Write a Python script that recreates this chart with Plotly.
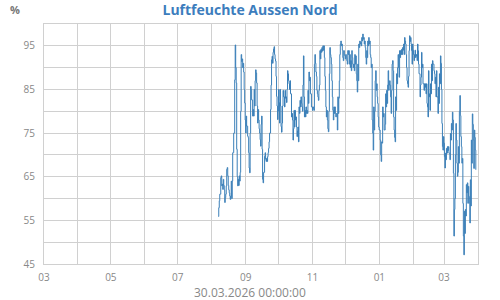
import pandas as pd
import plotly.graph_objects as go

# Humidity readings (%), two readings per ~22h step
hum_aug_sep = [55.9, 57.9, 59.5, 61, 61, 64.8, 65.2, 62.9, 63.3, 62.1, 64.4, 63, 62, 59.1, 60.2, 61,
               62.9, 66.7, 67.1, 65.2, 63, 62, 61.3, 60.6, 59.8, 60.5, 64, 60, 64, 70.5, 70.5, 75,
               75, 87.2, 95.2, 90, 86.5, 71.3, 65, 62.9, 64.4, 63, 65.2, 64, 66, 80, 93, 91.4,
               92, 90, 91, 89, 85, 81.9, 78, 75, 78.9, 76.6, 76.6, 74.3, 74, 70.5, 67, 65.9,
               75, 85.7, 85, 82.6, 82.6, 78.9, 80.4, 78.9, 85, 81.2, 87, 89.5, 88.8, 86.5, 81.2, 77.3,
               80.4, 78, 76, 75, 73.5, 72, 77, 78.9, 71.3, 64.4, 63.6, 66, 66, 69.7, 70.5, 69,
               68.5, 69.2, 68.5, 69.6, 70.5, 71.5, 73, 75, 75, 80.4, 86, 91.8, 92.6, 91, 93.5, 94.3,
               94.8, 93, 92, 91.5, 88, 83.4, 81.2, 78.1, 80, 85, 82, 77.3, 85, 81.2, 76.5, 75.2,
               77.3, 81.2]
hum_oct_nov = [84.8, 83.3, 83.3, 81, 84.8, 83, 83.3, 82, 85, 89.3, 88.6, 87, 86.3, 85, 87, 84,
               84, 78.7, 79.5, 78, 73.4, 76, 80.2, 76.4, 80.2, 78, 78.7, 76.4, 74.2, 75.5, 76.4, 73,
               81, 79.5, 82.5, 81, 83.3, 81.8, 81, 80, 86, 92.7, 83.3, 78.7, 80.2, 78.7, 81, 79.5,
               80.2, 79.5, 84.8, 81.8, 89, 87, 87.8, 84, 84, 81, 81, 80.2, 81, 80.6, 80.2, 90.8,
               93, 91, 89, 88, 84.8, 84, 83.3, 82.5, 84.8, 86, 93.9, 92, 94.2, 93.5, 94.6, 93.8,
               95, 94, 95, 92.3, 88, 84.8, 81, 78.7, 80.2, 78, 76, 75.3, 80, 88.6, 94.6, 93,
               92.3, 90.8, 87, 83.3, 80.2, 78, 81, 79.5, 81, 79.5, 78.7, 79.5, 79.5, 75.7, 83.3, 79.5,
               83, 87, 93, 95.4, 96.1, 95, 95.4, 94, 92.3, 91.6, 93.9, 93, 92.7, 92, 93, 92.3,
               91.6, 90.8, 93.9, 93]
hum_dec_jan = [93.9, 90.8, 93, 90, 91.6, 89.3, 93.9, 92.3, 90.8, 90, 90.8, 89.3, 93, 90.8, 92.7, 88.6,
               87, 84.4, 90.8, 87, 95.4, 94.6, 96.1, 95.4, 95.8, 95, 96.9, 96.1, 97.7, 96.5, 96.9, 95.4,
               96.1, 94.6, 92.3, 90.8, 93.9, 92.3, 96.1, 95, 96.9, 95.4, 96.1, 93, 92.3, 90, 90.8, 78,
               75, 71.1, 81, 75.7, 80, 87, 89.3, 84.8, 86.3, 83.3, 81.8, 78.7, 76.4, 75.7, 75.7, 73.4,
               70, 68.5, 73, 72.7, 81, 78.7, 79.5, 75.7, 75.7, 77, 84, 81, 84.8, 81.8, 86, 89.3,
               84.8, 86, 87, 86, 83.3, 79.5, 84.8, 90.8, 91.6, 89.3, 78.7, 75.7, 74, 73, 83.3, 80.2,
               88.6, 86.3, 90, 93, 90, 87.8, 93.9, 92.3, 93.9, 93, 94.2, 93, 94.6, 94, 95.4, 93,
               96.9, 96.1, 95.4, 93, 90, 87, 86.3, 85.5, 88, 93.9, 97.3, 96, 96.9, 95.4, 93.9, 90.8,
               95.4, 94, 93, 91.6]
hum_feb_mar = [93, 94, 92.3, 93, 92.7, 91.6, 95.4, 93.9, 90.8, 88.6, 88.6, 83.3, 86, 87.8, 93.5, 90,
               90.8, 86.3, 86.3, 84.8, 86.3, 85.5, 86.3, 84, 86.3, 81.8, 81, 78.7, 89.3, 83.3, 84, 80.2,
               86.3, 84, 90.8, 87, 91.6, 90.8, 90.8, 89.3, 88.6, 86.3, 87.8, 83.3, 89.3, 83.3, 83.3, 79.5,
               85.5, 81.8, 88.6, 86.3, 92.7, 91, 85, 77.2, 71.9, 71.1, 74.2, 72.7, 69.6, 67, 70.4, 68.9,
               71.5, 70.4, 71.9, 71, 71.9, 70.4, 70.4, 68.9, 74.9, 73.4, 77.2, 75.7, 79.8, 78, 65.8, 51.4,
               57.5, 60, 70, 77.2, 73.4, 68.1, 65.1, 66, 71.9, 68.1, 80, 83.6, 79, 74.2, 71.9, 68.1,
               69.2, 58.9, 51.4, 47.1, 57.1, 52, 57.5, 56, 63.2, 61.3, 63.6, 58.9, 62.8, 60.5, 58.9, 54.4,
               64.3, 58.3, 73.4, 68.1, 79.4, 77, 73.4, 66.9, 75.7, 74, 71.1, 66.6]

hum = hum_aug_sep + hum_oct_nov + hum_dec_jan + hum_feb_mar
times = pd.date_range("2025-08-07 00:00", "2026-03-30 00:00", periods=len(hum))

x_range = ["2025-03-01", "2026-04-01"]
y_range = [45, 100]

grid = "#d0d0d0"
tick_col = "#888888"

fig = go.Figure()
fig.add_trace(go.Scatter(x=times, y=hum, mode="lines",
                         line=dict(color="#3a7fb8", width=1, shape="hv"), hoverinfo="skip"))

fig.update_layout(
    width=500, height=300,
    margin=dict(l=44, r=22, t=24, b=36),
    paper_bgcolor="white", plot_bgcolor="white",
    showlegend=False,
    font=dict(family="Open Sans", size=10, color=tick_col),
    title=dict(text="<b>Luftfeuchte Aussen Nord</b>", x=0.5, xanchor="center",
               y=1 - 10 / 300, yanchor="middle",
               font=dict(family="Open Sans", size=14, color="#3c7dbd")),
)
fig.update_xaxes(range=x_range, type="date", tick0="2025-03-01", dtick="M2",
                 tickformat="%m", showgrid=True, gridcolor=grid, gridwidth=1,
                 showline=True, linecolor=grid, mirror=True, zeroline=False,
                 ticks="", ticklabelstandoff=4,
                 minor=dict(dtick="M1", tick0="2025-03-01", showgrid=True, gridcolor=grid),
                 tickfont=dict(size=10, color=tick_col))
fig.update_yaxes(range=y_range, tick0=45, dtick=10, showgrid=True, gridcolor=grid,
                 showline=True, linecolor=grid, mirror=True, zeroline=False,
                 ticks="", ticklabelstandoff=6,
                 minor=dict(dtick=5, tick0=45, showgrid=True, gridcolor=grid),
                 tickfont=dict(size=10, color=tick_col))

fig.add_annotation(text="<b>%</b>", xref="paper", yref="paper",
                   x=(15 - 44) / 434, y=(264 - 9) / 240, xanchor="center", yanchor="middle",
                   showarrow=False, font=dict(size=11, color="#777777"))
fig.add_annotation(text="30.03.2026 00:00:00", xref="paper", yref="paper",
                   x=(250 - 44) / 434, y=(264 - 292) / 240, xanchor="center", yanchor="middle",
                   showarrow=False, font=dict(size=12, color=tick_col))

fig.write_html("out.html")
